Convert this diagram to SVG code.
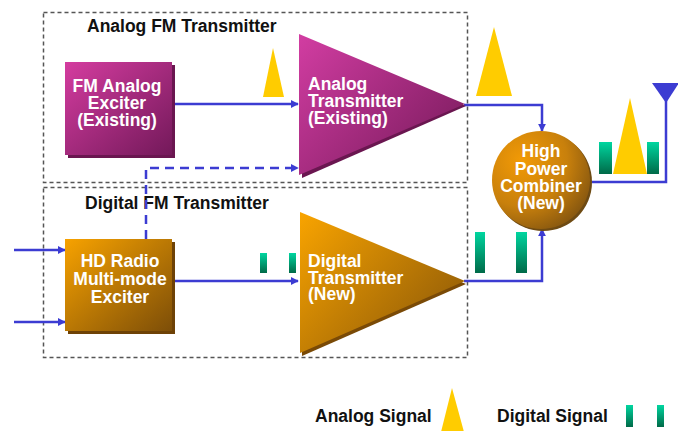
<svg xmlns="http://www.w3.org/2000/svg" width="678" height="431" viewBox="0 0 678 431">
  <defs>
    <linearGradient id="gPurple" x1="0" y1="0" x2="1" y2="1">
      <stop offset="0" stop-color="#d43c9f"/>
      <stop offset="1" stop-color="#73195a"/>
    </linearGradient>
    <linearGradient id="gPurpleTri" x1="0" y1="0" x2="1" y2="0.8">
      <stop offset="0" stop-color="#d23da2"/>
      <stop offset="1" stop-color="#7c1c5f"/>
    </linearGradient>
    <linearGradient id="gOrange" x1="0" y1="0" x2="1" y2="1">
      <stop offset="0" stop-color="#f7a200"/>
      <stop offset="1" stop-color="#7d4e08"/>
    </linearGradient>
    <linearGradient id="gOrangeTri" x1="0" y1="0" x2="1" y2="0.8">
      <stop offset="0" stop-color="#f9a400"/>
      <stop offset="1" stop-color="#8e5a08"/>
    </linearGradient>
    <radialGradient id="gCircle" cx="0.3" cy="0.3" r="0.85">
      <stop offset="0" stop-color="#f29a06"/>
      <stop offset="0.55" stop-color="#c8800c"/>
      <stop offset="1" stop-color="#7a4f10"/>
    </radialGradient>
    <linearGradient id="gGreen" x1="0" y1="0" x2="0" y2="1">
      <stop offset="0" stop-color="#00d6a0"/>
      <stop offset="1" stop-color="#006a48"/>
    </linearGradient>
    <marker id="arrow" viewBox="0 0 10 10" refX="9" refY="5" markerWidth="8" markerHeight="8" markerUnits="userSpaceOnUse" orient="auto">
      <path d="M0,0 L10,5 L0,10 z" fill="#3c3cd2"/>
    </marker>
    <style>
      .group-box { fill: none; stroke: #555; stroke-width: 1.5; stroke-dasharray: 4 3; }
      .title { font-family: "Liberation Sans", Arial, sans-serif; font-weight: bold; font-size: 17.5px; fill: #111; }
      .label { font-family: "Liberation Sans", Arial, sans-serif; font-weight: bold; font-size: 17.5px; fill: #fff; }
      .mid { text-anchor: middle; }
      .wire { fill: none; stroke: #3c3cd2; stroke-width: 2.5; }
      .dashed { stroke-dasharray: 9 6; }
      .analog { fill: #ffcc00; }
      .digital { fill: url(#gGreen); }
    </style>
  </defs>

  <rect width="678" height="431" fill="#fff"/>

  <!-- transmitter group frames -->
  <g id="analog-group">
    <rect class="group-box" x="43.5" y="12.5" width="424" height="170"/>
    <text class="title" x="87" y="32">Analog FM Transmitter</text>
  </g>
  <g id="digital-group">
    <rect class="group-box" x="43.5" y="187.5" width="424" height="170"/>
    <text class="title" x="85" y="209">Digital FM Transmitter</text>
  </g>

  <!-- connectors -->
  <g id="connectors">
    <path class="wire" d="M175,104 H298" marker-end="url(#arrow)"/>
    <path class="wire dashed" d="M146,239 V168 H298" marker-end="url(#arrow)"/>
    <path class="wire" d="M14,250 H65" marker-end="url(#arrow)"/>
    <path class="wire" d="M14,322 H65" marker-end="url(#arrow)"/>
    <path class="wire" d="M175,281 H298" marker-end="url(#arrow)"/>
    <path class="wire" d="M464,105 H542 V131" marker-end="url(#arrow)"/>
    <path class="wire" d="M464,281 H542 V229" marker-end="url(#arrow)"/>
    <path class="wire" d="M592,182 H666 V100"/>
  </g>

  <!-- FM analog exciter -->
  <g id="fm-analog-exciter">
    <rect x="68" y="65" width="107" height="93" fill="#6a1650"/>
    <rect x="65" y="62" width="107" height="93" fill="url(#gPurple)"/>
    <text class="label mid" x="117" y="92">FM Analog</text>
    <text class="label mid" x="117" y="109">Exciter</text>
    <text class="label mid" x="117" y="126">(Existing)</text>
  </g>

  <!-- analog transmitter -->
  <g id="analog-transmitter">
    <path d="M301,38 L466,106 L302,178 z" fill="#6a1650"/>
    <path d="M299,34 L465,104 L299,175 z" fill="url(#gPurpleTri)"/>
    <text class="label" x="308" y="90">Analog</text>
    <text class="label" x="308" y="107">Transmitter</text>
    <text class="label" x="308" y="124">(Existing)</text>
  </g>

  <!-- HD Radio exciter -->
  <g id="hd-radio-exciter">
    <rect x="68" y="242" width="107" height="92" fill="#6e4206"/>
    <rect x="65" y="239" width="107" height="92" fill="url(#gOrange)"/>
    <text class="label mid" x="120" y="267">HD Radio</text>
    <text class="label mid" x="120" y="285">Multi-mode</text>
    <text class="label mid" x="120" y="303">Exciter</text>
  </g>

  <!-- digital transmitter -->
  <g id="digital-transmitter">
    <path d="M302,215 L466,284 L302,356 z" fill="#7a4a06"/>
    <path d="M300,212 L465,281 L300,353 z" fill="url(#gOrangeTri)"/>
    <text class="label" x="308" y="267">Digital</text>
    <text class="label" x="308" y="284">Transmitter</text>
    <text class="label" x="308" y="300">(New)</text>
  </g>

  <!-- high power combiner -->
  <g id="combiner">
    <circle cx="543" cy="182" r="49" fill="#6e4a12"/>
    <circle cx="541" cy="180" r="49" fill="url(#gCircle)"/>
    <text class="label mid" x="541" y="157">High</text>
    <text class="label mid" x="541" y="175">Power</text>
    <text class="label mid" x="541" y="192">Combiner</text>
    <text class="label mid" x="541" y="209">(New)</text>
  </g>

  <!-- antenna -->
  <g id="antenna">
    <path d="M652,83 H679 L666,103 z" fill="#3c3cd2"/>
  </g>

  <!-- signal spectra -->
  <g id="signals">
    <path class="analog" d="M273,48 L284,97 H263 z"/>
    <path class="analog" d="M494,27 L512,96 H476 z"/>
    <rect class="digital" x="260" y="253" width="7" height="20"/>
    <rect class="digital" x="289" y="253" width="7" height="20"/>
    <rect class="digital" x="475" y="232" width="10" height="41"/>
    <rect class="digital" x="516" y="232" width="11" height="41"/>
    <rect class="digital" x="599" y="142" width="13" height="32"/>
    <rect class="digital" x="647" y="142" width="12" height="32"/>
    <path class="analog" d="M630,98 L647,174 H613 z"/>
  </g>

  <!-- legend -->
  <g id="legend">
    <text class="title" x="315" y="422">Analog Signal</text>
    <path class="analog" d="M452,388 L464,432 H441 z"/>
    <text class="title" x="497" y="422">Digital Signal</text>
    <rect class="digital" x="626" y="405" width="7" height="22"/>
    <rect class="digital" x="657" y="405" width="7" height="22"/>
  </g>
</svg>
